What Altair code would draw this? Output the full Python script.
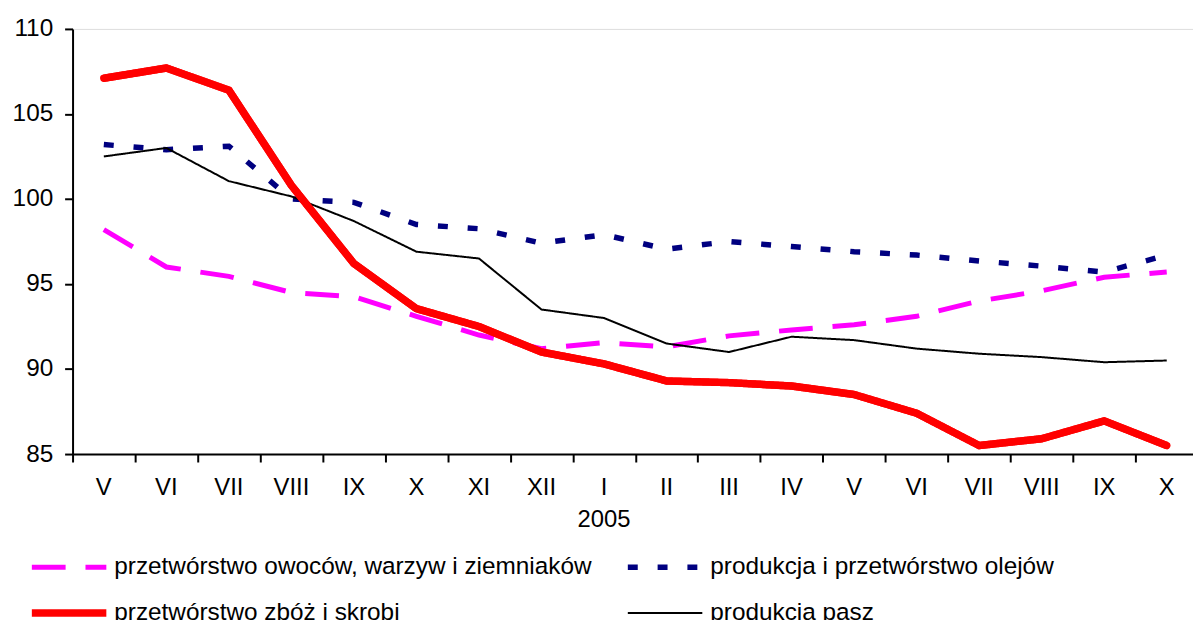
import altair as alt
import pandas as pd

months = ["V", "VI", "VII", "VIII", "IX", "X", "XI", "XII", "I", "II", "III", "IV",
          "V", "VI", "VII", "VIII", "IX", "X"]
year_label = "2005"
year_at = 8

# order = legend order (column-major: left column, then right column)
series_names = [
    "przetwórstwo owoców, warzyw i ziemniaków",
    "przetwórstwo zbóż i skrobi",
    "produkcja i przetwórstwo olejów",
    "produkcja pasz",
]
owoce = [98.2, 96.0, 95.45, 94.5, 94.25, 93.1, 92.0, 91.2, 91.55, 91.3, 91.95, 92.3,
         92.6, 93.1, 94.0, 94.6, 95.4, 95.7]
zboza = [107.1, 107.7, 106.4, 100.8, 96.2, 93.55, 92.5, 91.0, 90.3, 89.3, 89.2, 89.0,
         88.5, 87.4, 85.5, 85.9, 86.95, 85.5]
oleje = [103.2, 102.9, 103.1, 100.0, 99.8, 98.5, 98.25, 97.4, 97.9, 97.05, 97.5, 97.2,
         96.9, 96.7, 96.35, 96.05, 95.7, 96.7]
pasze = [102.5, 103.0, 101.05, 100.15, 98.7, 96.9, 96.5, 93.5, 93.0, 91.5, 91.0, 91.9,
         91.7, 91.2, 90.9, 90.7, 90.4, 90.5]

colors = ["#FF00FF", "#FF0000", "#000080", "#000000"]
dashes = [[34, 20], [1, 0], [10, 20], [1, 0]]
widths = [5, 7.5, 5.5, 2]

FONT = "Liberation Sans, Arial, sans-serif"
W, H = 1128, 428

rows = []
for name, vals in zip(series_names, [owoce, zboza, oleje, pasze]):
    for i, v in enumerate(vals):
        rows.append({"idx": i, "month": months[i], "series": name, "value": v})
df = pd.DataFrame(rows)
mdf = pd.DataFrame({"idx": list(range(len(months))), "month": months})
ydf = pd.DataFrame({"idx": [year_at], "text": [year_label]})

xscale = alt.Scale(domain=[-0.5, 17.42], nice=False, zero=False)
yscale = alt.Scale(domain=[85, 110], nice=False, zero=False)

x_axis = alt.Axis(values=[k - 0.5 for k in range(19)], labels=False, tickSize=8,
                  tickWidth=2, domainWidth=2, domainColor="black", tickColor="black",
                  grid=False, title=None)
y_axis = alt.Axis(values=[85, 90, 95, 100, 105, 110], tickSize=8, tickWidth=2,
                  domainWidth=2, domainColor="black", tickColor="black", grid=False,
                  title=None, labelFontSize=24.5, labelFont=FONT, labelColor="black",
                  labelPadding=12)

legend = alt.Legend(
    orient="none", legendX=-45, legendY=527, columns=2, title=None,
    symbolType="stroke", symbolSize=5625, clipHeight=30, rowPadding=16,
    columnPadding=32, labelFontSize=24.5, labelFont=FONT, labelColor="black",
    labelOffset=4, labelLimit=2000, padding=0,
)

base = alt.Chart(df)
lines = base.mark_line(strokeCap="butt").encode(
    x=alt.X("idx:Q", scale=xscale, axis=x_axis),
    y=alt.Y("value:Q", scale=yscale, axis=y_axis),
    color=alt.Color("series:N", scale=alt.Scale(domain=series_names, range=colors),
                    legend=legend),
    strokeDash=alt.StrokeDash("series:N", scale=alt.Scale(domain=series_names, range=dashes)),
    strokeWidth=alt.StrokeWidth("series:N", scale=alt.Scale(type="ordinal", domain=series_names,
                                                            range=widths)),
    order="idx:Q",
)

red = base.transform_filter(alt.datum.series == series_names[1]).mark_line(
    strokeCap="round", strokeJoin="round", strokeWidth=7.5, color="#FF0000"
).encode(x=alt.X("idx:Q", scale=xscale), y=alt.Y("value:Q", scale=yscale), order="idx:Q")

month_text = alt.Chart(mdf).mark_text(fontSize=24, font=FONT, color="black",
                                      baseline="alphabetic", align="center").encode(
    x=alt.X("idx:Q", scale=xscale), y=alt.value(469), text="month:N")

year_text = alt.Chart(ydf).mark_text(fontSize=24, font=FONT, color="black",
                                     baseline="alphabetic", align="center").encode(
    x=alt.X("idx:Q", scale=xscale), y=alt.value(501), text="text:N")

chart = alt.layer(lines, red, month_text, year_text).properties(
    width=W, height=H,
    autosize=alt.AutoSizeParams(type="none"),
    padding={"left": 65, "top": 19, "right": 0, "bottom": 165},
).configure_view(stroke=None).configure(background="white")

chart.save("out.html", embed_options={"renderer": "svg", "actions": False})
